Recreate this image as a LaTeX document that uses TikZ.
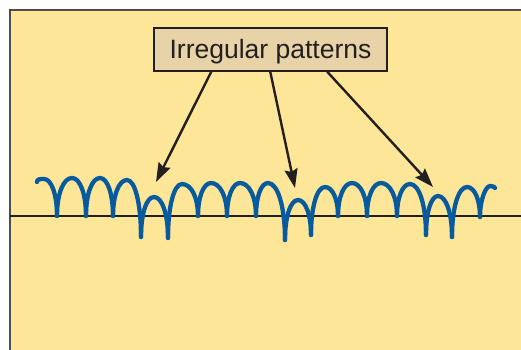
\documentclass[tikz,border=0pt]{standalone}
\usepackage{fontspec}
\setmainfont{Liberation Sans}
\usetikzlibrary{arrows.meta}
\definecolor{bgyellow}{RGB}{253,230,152}
\definecolor{boxtan}{RGB}{232,210,168}
\definecolor{waveblue}{RGB}{8,90,158}
\definecolor{inkdark}{RGB}{35,31,32}
\tikzset{
  wave/.style={draw=waveblue,line width=4.3pt,line cap=round,line join=round},
  labelbox/.style={draw=inkdark,line width=1.5pt,fill=boxtan,minimum width=233pt,minimum height=43pt,
    inner sep=0pt,text height=19pt,text depth=0pt,font=\fontsize{26.5}{30}\selectfont,text=inkdark},
  pointer/.style={draw=inkdark,line width=2.4pt,-{Stealth[length=19pt,width=13pt,inset=2.5pt]}},
  axisline/.style={draw=inkdark,line width=2.4pt},
  framebox/.style={draw=inkdark!80,line width=1.6pt}
}
% arch from cusp (#1,#2) over peak (#3,#4) to cusp (#5,#6)
\newcommand\wavearch[6]{\draw[wave] (#1,#2) .. controls (#1,{#2-0.58*(#2-#4)}) and ({#3-0.58*(#3-#1)},#4) .. (#3,#4) .. controls ({#3+0.58*(#5-#3)},#4) and (#5,{#6-0.58*(#6-#4)}) .. (#5,#6);}
\begin{document}
\begin{tikzpicture}[x=1pt,y=-1pt]
\useasboundingbox (0,0) rectangle (521,350);
\fill[bgyellow] (10,10) rectangle (521,350);
\draw[framebox] (10,350) -- (10,10) -- (521,10);
% baseline
\coordinate (bl) at (10,216);
\coordinate (br) at (521,216);
\draw[axisline] (bl) -- (br);
% wave
\draw[wave] (37,182) .. controls (37,179) and (40,179) .. (44,179) .. controls ({44+0.58*13},179) and (57,{216-0.58*37}) .. (57,216);
\wavearch{57}{216}{72}{178}{86}{216}
\wavearch{86}{216}{100}{178}{113}{216}
\wavearch{113}{216}{127}{180}{141}{237}
\wavearch{141}{237}{154}{197}{168}{238}
\wavearch{168}{238}{182}{184}{198}{216}
\wavearch{198}{216}{211}{183}{227}{216}
\wavearch{227}{216}{240}{183}{256}{216}
\wavearch{256}{216}{268}{183}{285}{240}
\wavearch{285}{240}{298}{200}{311}{235}
\wavearch{311}{235}{325}{187}{338}{216}
\wavearch{338}{216}{352}{183}{367}{216}
\wavearch{367}{216}{381}{183}{397}{216}
\wavearch{397}{216}{410}{184}{426}{235}
\wavearch{426}{235}{438}{196}{452}{237}
\wavearch{452}{237}{467}{187}{480}{217}
\draw[wave] (480,217) .. controls (480,{217-0.58*31}) and (486,186) .. (490,186) .. controls (493,186) and (495,187) .. (495,188);
% label and pointers
\node[labelbox] (box) at (270.5,49.5) {Irregular patterns};
\coordinate (t1) at (156,182);
\coordinate (t2) at (295,188);
\coordinate (t3) at (433,187);
\draw[pointer] ([xshift=58pt]box.south west) -- (t1);
\draw[pointer] ([xshift=117pt]box.south west) -- (t2);
\draw[pointer] ([xshift=174pt]box.south west) -- (t3);
\end{tikzpicture}
\end{document}
